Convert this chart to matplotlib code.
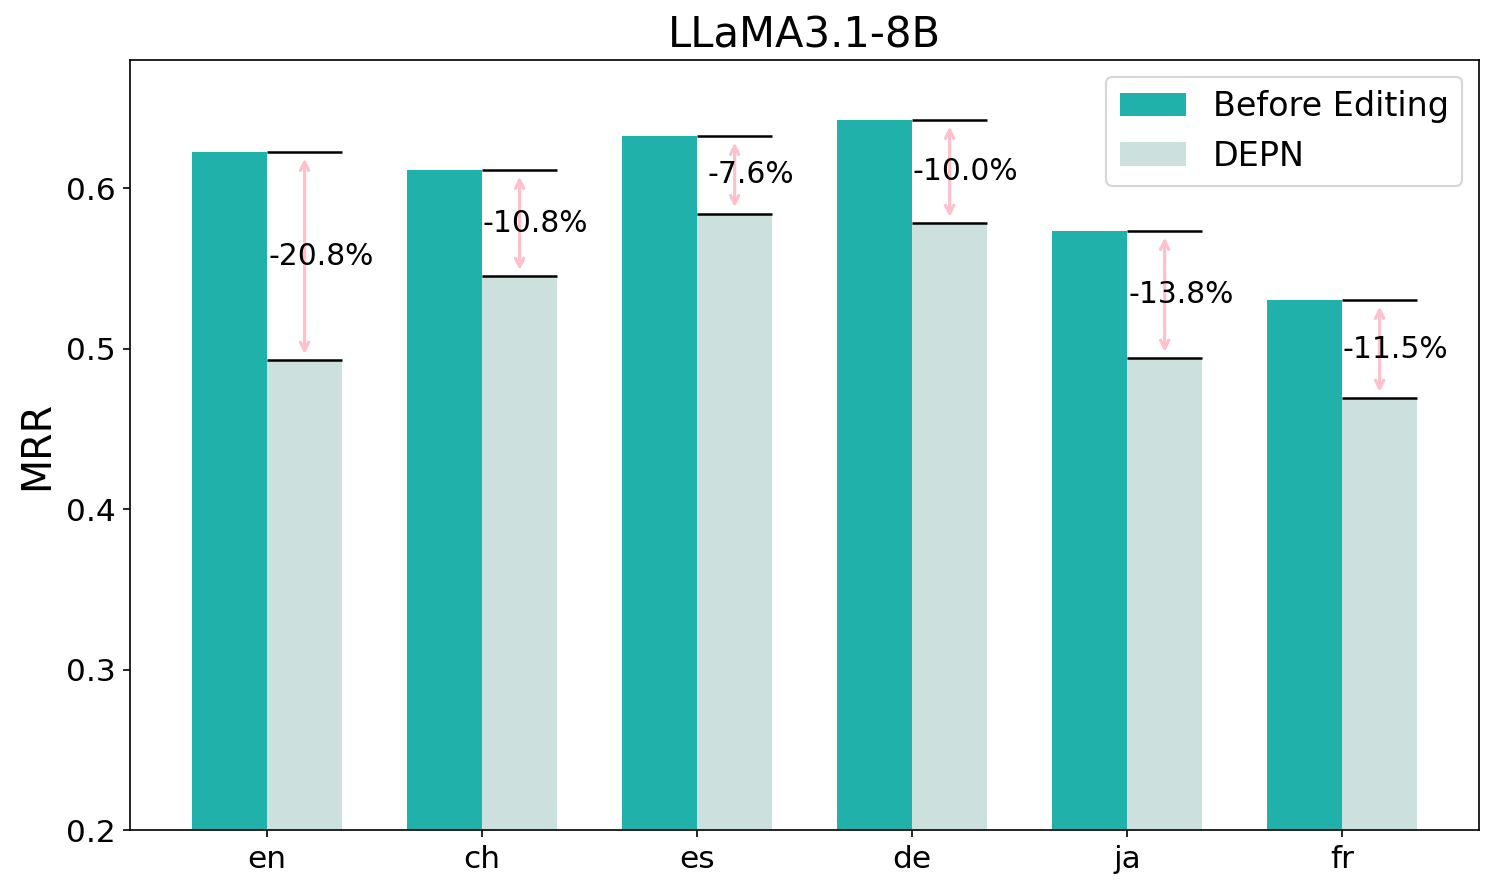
import matplotlib
matplotlib.use("Agg")
import matplotlib.pyplot as plt
import numpy as np

categories = ["en", "ch", "es", "de", "ja", "fr"]
before = [0.6224, 0.6112, 0.6324, 0.6424, 0.5732, 0.5302]
depn = [0.4928, 0.5452, 0.5843, 0.5782, 0.4941, 0.4692]
labels = ["-20.8%", "-10.8%", "-7.6%", "-10.0%", "-13.8%", "-11.5%"]

fig = plt.figure(figsize=(1495/150, 893/150), dpi=150)
ax = fig.add_axes([130/1495, 1 - 830/893, (1479-130)/1495, (830-60)/893])

x = np.arange(len(categories))
w = 0.35
ax.bar(x - w/2, before, w, color="#20B2AA", label="Before Editing")
ax.bar(x + w/2, depn, w, color="#CCE0DE", label="DEPN")

for i in range(len(categories)):
    ax.hlines([before[i], depn[i]], x[i], x[i] + w, color="black", lw=1.2)
    ax.annotate("", xy=(x[i] + w/2, depn[i]), xytext=(x[i] + w/2, before[i]),
                arrowprops=dict(arrowstyle="<->", color="pink", lw=1.5, shrinkA=3, shrinkB=3))
    ax.text(x[i] + 0.25, (before[i] + depn[i]) / 2, labels[i], ha="center", va="center", fontsize=14.3)

ax.set_ylim(0.2, 0.68)
ax.set_xlim(-0.637, 5.637)
ax.set_yticks([0.2, 0.3, 0.4, 0.5, 0.6])
ax.set_xticks(x)
ax.set_xticklabels(categories)
ax.tick_params(labelsize=15)
ax.set_ylabel("MRR", fontsize=19)
ax.set_title("LLaMA3.1-8B", fontsize=20)
ax.legend(fontsize=16, loc="upper right")

fig.savefig("out.png", dpi=150)
